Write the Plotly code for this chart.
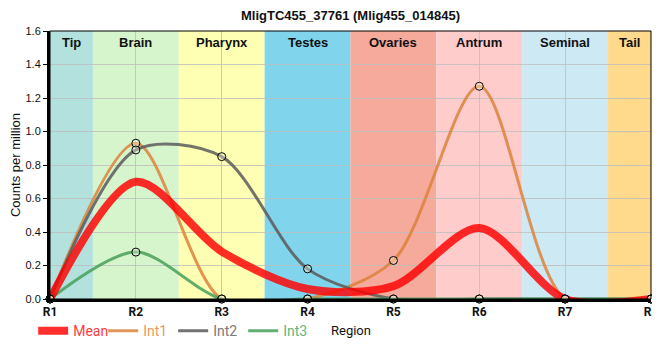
import plotly.graph_objects as go

regions = ["R1", "R2", "R3", "R4", "R5", "R6", "R7", "R8"]
int1 = [0, 0.93, 0, 0, 0.23, 1.27, 0, 0]
int2 = [0, 0.89, 0.85, 0.18, 0, 0, 0, 0]
int3 = [0, 0.28, 0, 0, 0, 0, 0, 0]
mean = [round((a + b + c) / 3, 4) for a, b, c in zip(int1, int2, int3)]

band_names = ["Tip", "Brain", "Pharynx", "Testes", "Ovaries", "Antrum", "Seminal", "Tail"]
band_colors = ["#b3e1dd", "#d6f5cc", "#ffffb3", "#80d4ec", "#f5aa9c", "#ffcccc", "#cce9f4", "#ffd98c"]

xs = list(range(len(regions)))

fig = go.Figure()

series = {
    "Mean": (mean, "rgba(255,0,0,0.82)", 8, "#ff3b3b"),
    "Int1": (int1, "rgba(220,130,60,0.85)", 3, "#e89a5c"),
    "Int2": (int2, "rgba(90,90,90,0.85)", 3, "#7a7a7a"),
    "Int3": (int3, "rgba(70,160,90,0.85)", 3, "#5fb67a"),
}

def line_trace(name, rank):
    vals, col, w, tcol = series[name]
    return go.Scatter(
        x=xs, y=vals, name=f"<span style='color:{tcol}'>{name}</span>",
        mode="lines", legendrank=rank,
        line=dict(color=col, width=w, shape="spline", smoothing=0.85),
        cliponaxis=True,
    )

for i, name in enumerate(["Int1", "Int2", "Int3"]):
    fig.add_trace(line_trace(name, 2 + i))
fig.add_trace(line_trace("Mean", 1))

for name in ["Int1", "Int2", "Int3"]:
    vals = series[name][0]
    fig.add_trace(go.Scatter(
        x=xs, y=vals, mode="markers", showlegend=False, hoverinfo="skip",
        marker=dict(size=8, color="rgba(255,255,230,0.35)", line=dict(color="black", width=1)),
        cliponaxis=False,
    ))

shapes = []
annotations = []
n = len(regions)
for i, (bn, bc) in enumerate(zip(band_names, band_colors)):
    x0 = max(i - 0.5, 0)
    x1 = min(i + 0.5, n - 1)
    shapes.append(dict(type="rect", xref="x", yref="paper", x0=x0, x1=x1, y0=0, y1=1,
                       fillcolor=bc, line=dict(width=0), layer="below"))
    annotations.append(dict(x=(x0 + x1) / 2, y=1, xref="x", yref="paper", yanchor="top",
                            yshift=-2, text=f"<b>{bn}</b>", showarrow=False,
                            font=dict(size=13, color="#111", family="Liberation Sans, Arial")))
shapes.append(dict(type="rect", xref="paper", yref="paper", x0=0, x1=1, y0=0, y1=1,
                   line=dict(color="black", width=1), layer="above"))

# x-axis title placed in the legend row, as in the reference
annotations.append(dict(x=0.5, y=0, xref="paper", yref="paper", yanchor="middle",
                        yshift=-31, text="Region", showarrow=False,
                        font=dict(size=13, family="Roboto", color="#111")))

# page body adds an 8px offset; figure is sized so the chart fills the 660x360 window
fig.update_layout(
    width=652, height=344,
    margin=dict(l=42, r=9, t=23, b=53, autoexpand=False),
    paper_bgcolor="white", plot_bgcolor="white",
    title=dict(text="<b>MligTC455_37761 (Mlig455_014845)</b>", x=0.5, xanchor="center",
               xref="paper", yref="container", y=1 - 3 / 344, yanchor="top", automargin=False,
               pad=dict(t=0, b=0),
               font=dict(size=13, color="#111", family="Liberation Sans, Arial")),
    shapes=shapes, annotations=annotations,
    showlegend=True,
    legend=dict(orientation="h", x=-0.028, xanchor="left", y=-0.06, yanchor="top",
                font=dict(size=14, family="Roboto"), bgcolor="rgba(0,0,0,0)",
                itemwidth=30, tracegroupgap=0, entrywidth=25, entrywidthmode="pixels"),
    xaxis=dict(range=[0, n - 1], tickvals=xs, ticktext=[f"<b>{r}</b>" for r in regions],
               showgrid=True, gridcolor="rgba(190,190,190,0.8)", gridwidth=1,
               showline=True, linecolor="black", linewidth=3, zeroline=False,
               tickfont=dict(size=12, family="Roboto", color="#111"),
               ticklabeloverflow="allow",
               automargin=False, layer="above traces"),
    yaxis=dict(range=[0, 1.6], dtick=0.2, tickformat=".1f",
               showgrid=True, gridcolor="rgba(190,190,190,0.8)", gridwidth=1,
               showline=True, linecolor="black", linewidth=3, zeroline=False,
               ticks="outside", ticklen=4, tickcolor="black",
               tickfont=dict(size=11, family="Liberation Sans, Arial", color="#111"),
               title=dict(text="Counts per million", font=dict(size=13, family="Liberation Sans, Arial", color="#111"),
                          standoff=6),
               automargin=False, layer="above traces"),
)

fig.write_html("out.html")
